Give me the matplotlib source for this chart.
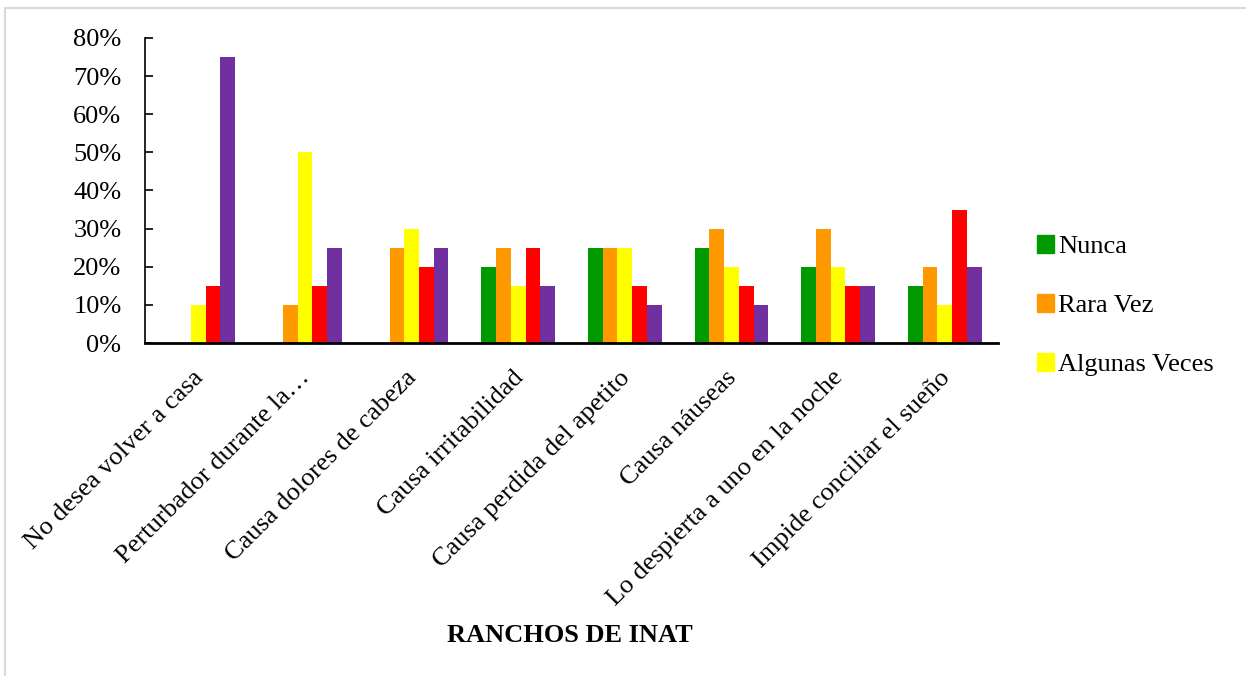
import matplotlib
matplotlib.use('Agg')
import matplotlib.pyplot as plt
import matplotlib.transforms as mtransforms
import numpy as np
from matplotlib.patches import Patch, Rectangle
from matplotlib.ticker import PercentFormatter

plt.rcParams['font.family'] = ['Liberation Serif', 'DejaVu Serif']

categories = [
	'No desea volver a casa',
	'Perturbador durante la…',
	'Causa dolores de cabeza',
	'Causa irritabilidad',
	'Causa perdida del apetito',
	'Causa náuseas',
	'Lo despierta a uno en la noche',
	'Impide conciliar el sueño',
]

series_names = ['Nunca', 'Rara Vez', 'Algunas Veces', 'Casi Siempre', 'Siempre']
nunca = [0.00, 0.00, 0.00, 0.20, 0.25, 0.25, 0.20, 0.15]
rara_vez = [0.00, 0.10, 0.25, 0.25, 0.25, 0.30, 0.30, 0.20]
algunas_veces = [0.10, 0.50, 0.30, 0.15, 0.25, 0.20, 0.20, 0.10]
casi_siempre = [0.15, 0.15, 0.20, 0.25, 0.15, 0.15, 0.15, 0.35]
siempre = [0.75, 0.25, 0.25, 0.15, 0.10, 0.10, 0.15, 0.20]

colors = ['#009900', '#FF9900', '#FFFF00', '#FF0000', '#7030A0']

fig = plt.figure(figsize=(12.46, 6.76), dpi=100)
ax = fig.add_axes([0.1164, 0.4926, 0.6846, 0.4512])

# light frame round the chart area
fig.patches.append(Rectangle((5 / 1246, -0.1), 1.2, 1.1 - 8 / 676,
	transform=fig.transFigure, fill=False, edgecolor='#d9d9d9', linewidth=1.5))

x = np.arange(len(categories))
width = 0.138
all_series = [nunca, rara_vez, algunas_veces, casi_siempre, siempre]
for i, vals in enumerate(all_series):
	ax.bar(x + (i - 2) * width, vals, width, color=colors[i], label=series_names[i])

ax.set_xlim(-0.5, len(categories) - 0.5)
ax.set_ylim(0, 0.8)
ax.set_yticks(np.arange(0, 0.81, 0.1))
ax.yaxis.set_major_formatter(PercentFormatter(1.0, decimals=0))
ax.tick_params(axis='y', direction='in', length=6, width=1.2, labelsize=19, pad=17)
ax.tick_params(axis='x', length=0, labelsize=19, pad=12)
ax.set_xticks(x)
ax.set_xticklabels(categories, rotation=45, ha='right', rotation_mode='anchor')

# nudge the slanted labels a little down and left
shift = mtransforms.ScaledTranslation(-6 / 100, -7 / 100, fig.dpi_scale_trans)
for lbl in ax.get_xticklabels():
	lbl.set_transform(lbl.get_transform() + shift)

for side in ['top', 'right']:
	ax.spines[side].set_visible(False)
ax.spines['left'].set_linewidth(1.2)
ax.spines['bottom'].set_linewidth(2)

fig.text(0.457, 0.06, 'RANCHOS DE INAT', ha='center', va='center',
	fontsize=19, fontweight='bold')

handles = [Patch(color=colors[i]) for i in range(3)]
fig.legend(handles, series_names[:3], loc='upper left',
	bbox_to_anchor=(0.813, 0.687), frameon=False, fontsize=19,
	handlelength=0.65, handleheight=0.65, handletextpad=0.15, labelspacing=1.36)

fig.savefig('out.png', dpi=100)
